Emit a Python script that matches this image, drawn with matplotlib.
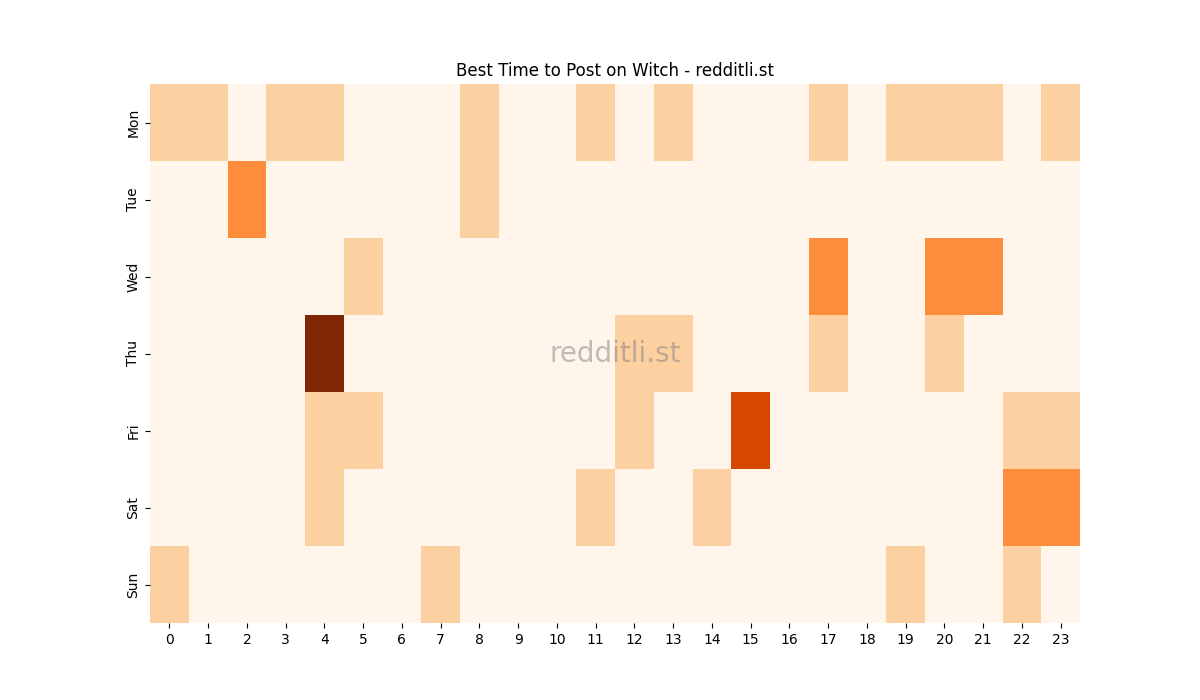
import numpy as np
import matplotlib
matplotlib.use('Agg')
import matplotlib.pyplot as plt
import seaborn as sns

days = ['Mon', 'Tue', 'Wed', 'Thu', 'Fri', 'Sat', 'Sun']
hours = list(range(24))

# posts per day/hour slot
mon = [1, 1, 0, 1, 1, 0, 0, 0, 1, 0, 0, 1, 0, 1, 0, 0, 0, 1, 0, 1, 1, 1, 0, 1]
tue = [0, 0, 2, 0, 0, 0, 0, 0, 1, 0, 0, 0, 0, 0, 0, 0, 0, 0, 0, 0, 0, 0, 0, 0]
wed = [0, 0, 0, 0, 0, 1, 0, 0, 0, 0, 0, 0, 0, 0, 0, 0, 0, 2, 0, 0, 2, 2, 0, 0]
thu = [0, 0, 0, 0, 4, 0, 0, 0, 0, 0, 0, 0, 1, 1, 0, 0, 0, 1, 0, 0, 1, 0, 0, 0]
fri = [0, 0, 0, 0, 1, 1, 0, 0, 0, 0, 0, 0, 1, 0, 0, 3, 0, 0, 0, 0, 0, 0, 1, 1]
sat = [0, 0, 0, 0, 1, 0, 0, 0, 0, 0, 0, 1, 0, 0, 1, 0, 0, 0, 0, 0, 0, 0, 2, 2]
sun = [1, 0, 0, 0, 0, 0, 0, 1, 0, 0, 0, 0, 0, 0, 0, 0, 0, 0, 0, 1, 0, 0, 1, 0]

grid = np.array([mon, tue, wed, thu, fri, sat, sun])

fig, ax = plt.subplots(figsize=(12, 7), dpi=100)
sns.heatmap(grid, cmap='Oranges', cbar=False, xticklabels=hours, yticklabels=days, ax=ax)
ax.set_title('Best Time to Post on Witch - redditli.st')

# watermark
ax.text(0.5, 0.5, 'redditli.st', transform=ax.transAxes, ha='center', va='center',
        fontsize=20, color='gray', alpha=0.5)

plt.savefig('out.png')
